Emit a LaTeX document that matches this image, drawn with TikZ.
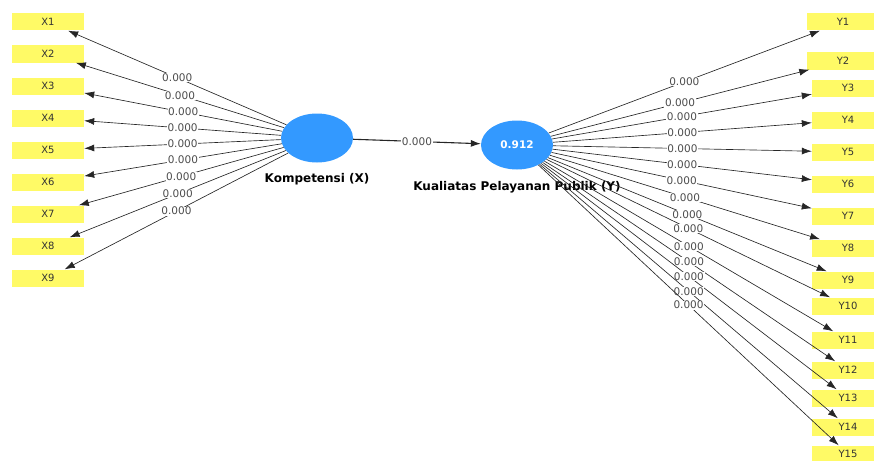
\documentclass[tikz,border=0pt]{standalone}
\usepackage{fontspec}
\setmainfont{DejaVu Sans}
\usetikzlibrary{arrows.meta, positioning, shapes.geometric}

\definecolor{lvblue}{RGB}{51,153,255}
\definecolor{mvyellow}{RGB}{255,250,102}

\begin{document}
\begin{tikzpicture}[
  x=1pt, y=-1pt,
  indicator/.style={fill=mvyellow, minimum width=72pt, minimum height=17pt, inner sep=0pt, text=black!80, font=\fontsize{10}{12}\selectfont},
  construct/.style={ellipse, fill=lvblue, minimum width=72pt, minimum height=49pt, inner sep=0pt, text=white, font=\bfseries\fontsize{10.5}{12}\selectfont},
  conlabel/.style={inner sep=0pt, font=\bfseries\fontsize{12}{14}\selectfont},
  loading/.style={-{Latex[length=10pt,width=7pt]}, draw=black!85, line width=0.65pt},
  value/.style={pos=0.5, fill=white, inner sep=0.6pt, text=black!70, font=\fontsize{10.5}{12}\selectfont}
]
\useasboundingbox (0,0) rectangle (874,460);
\clip (0,0) rectangle (874,460);

% Constructs
\node[construct] (kx) at (317,138) {};
\node[construct] (ky) at (517,145) {0.912};
\node[conlabel, below=10pt of kx] (kxlabel) {Kompetensi (X)};
\node[conlabel, below=11pt of ky] (kylabel) {Kualiatas Pelayanan Publik (Y)};

% Indicators
\foreach \i in {1,...,9}
  \node[indicator] (x\i) at (48,{22+32*(\i-1)}) {X\i};
\foreach \i/\x/\y in {1/843/22, 2/843/61, 3/848/88, 4/848/120, 5/848/152,
  6/848/184, 7/848/216, 8/848/248, 9/848/280, 10/848/306, 11/848/340,
  12/848/370, 13/848/398, 14/848/427, 15/848/454}
  \node[indicator] (y\i) at (\x,\y) {Y\i};

% Arrows
\foreach \i in {1,...,9}
  \draw[loading] (kx) -- node[value] {0.000} (x\i);
\foreach \i in {1,...,15}
  \draw[loading] (ky) -- node[value] {0.000} (y\i);
\draw[loading, line width=1.1pt] (kx) -- node[value] {0.000} (ky);

\end{tikzpicture}
\end{document}
